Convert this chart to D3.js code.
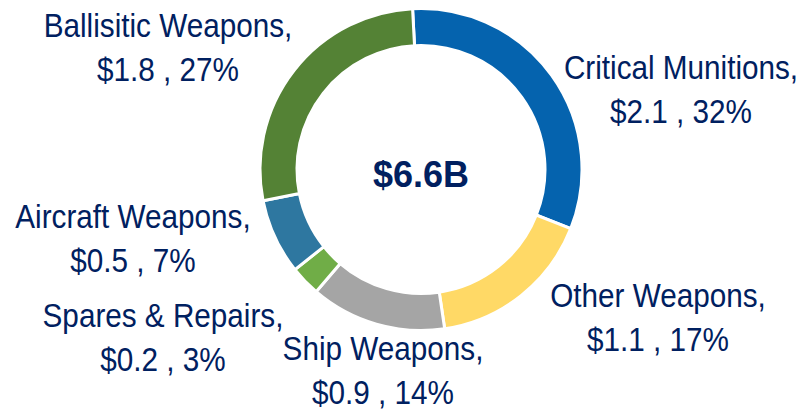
<!DOCTYPE html>
<html>
<head>
<meta charset="utf-8">
<script src="https://cdn.jsdelivr.net/npm/d3@7"></script>
<style>
  html, body { margin: 0; padding: 0; background: #fff; }
  svg { display: block; }
</style>
</head>
<body>
<div id="chart"></div>
<script>
// data (billions of $)
const categories = ["Critical Munitions", "Other Weapons", "Ship Weapons", "Spares & Repairs", "Aircraft Weapons", "Ballisitic Weapons"];
const values = [2.1, 1.1, 0.9, 0.2, 0.5, 1.8];
const percents = [32, 17, 14, 3, 7, 27];
const totalLabel = "$6.6B";

const colors = ["#0563ae", "#ffd966", "#a5a5a5", "#70ad47", "#2e77a0", "#548235"];
// label anchor (centre x, first baseline y) for each slice
const labelPos = [[681, 79], [658, 307], [383, 360], [163, 327], [133, 228], [168, 37]];

const fullwidth = 808, fullheight = 411;
const cx = 421, cy = 169.5;
const outerR = 161, innerR = 124;
const textColor = "#002060";

const svg = d3.select("#chart")
  .append("svg")
  .attr("width", fullwidth)
  .attr("height", fullheight);

const pie = d3.pie()
  .sort(null)
  .startAngle(-3 * Math.PI / 180)
  .endAngle(2 * Math.PI - 3 * Math.PI / 180);

const arc = d3.arc().innerRadius(innerR).outerRadius(outerR);

const donut = svg.append("g").attr("transform", `translate(${cx},${cy})`);

donut.selectAll("path")
  .data(pie(values))
  .enter()
  .append("path")
  .attr("d", arc)
  .attr("fill", (d, i) => colors[i])
  .attr("stroke", "#fff")
  .attr("stroke-width", 3)
  .attr("stroke-linejoin", "miter");

// total in the middle
donut.append("text")
  .attr("text-anchor", "middle")
  .attr("y", 17)
  .attr("font-family", "Liberation Sans, Arial, sans-serif")
  .attr("font-weight", "bold")
  .attr("font-size", 36)
  .attr("fill", textColor)
  .text(totalLabel);

// slice labels (text looks a bit narrow, so squeeze horizontally)
const labels = svg.append("g").attr("class", "labels");
categories.forEach((name, i) => {
  const [x, y] = labelPos[i];
  const t = labels.append("text")
    .attr("transform", `translate(${x},${y}) scale(0.9,1)`)
    .attr("text-anchor", "middle")
    .attr("font-family", "Liberation Sans, Arial, sans-serif")
    .attr("font-size", 33)
    .attr("fill", textColor);
  t.append("tspan").attr("x", 0).attr("y", 0).text(name + ",");
  t.append("tspan").attr("x", 0).attr("y", 44).text(`$${values[i].toFixed(1)} , ${percents[i]}%`);
});
</script>
</body>
</html>
